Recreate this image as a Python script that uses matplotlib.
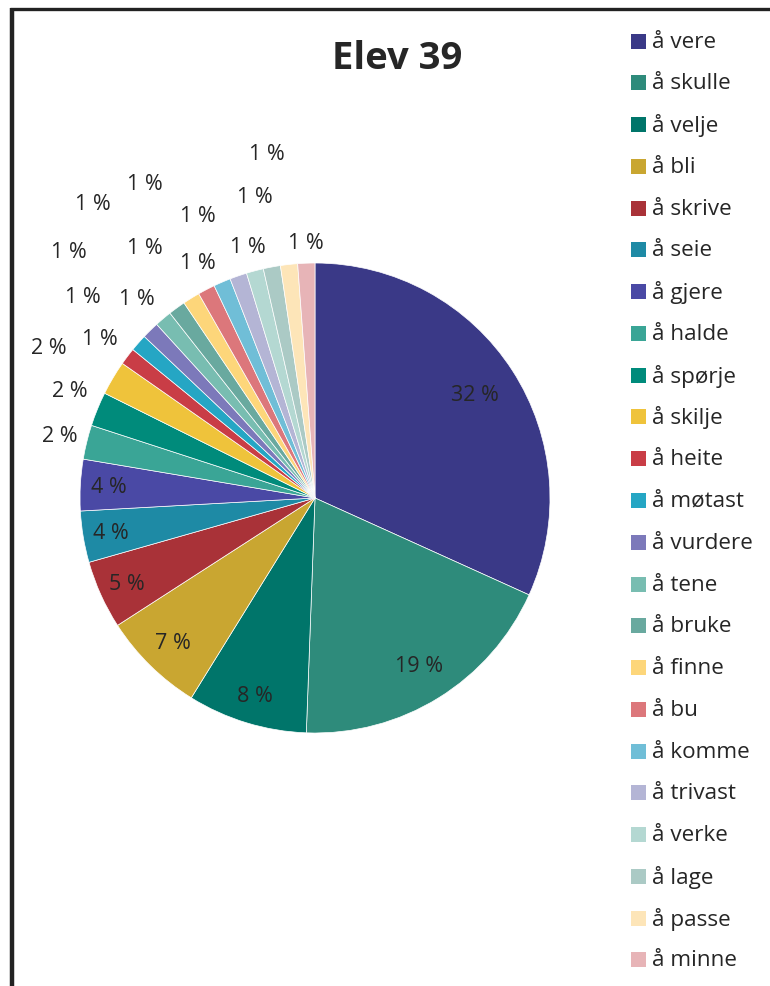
import numpy as np
import matplotlib
matplotlib.use("Agg")
import matplotlib.pyplot as plt
from matplotlib.patches import Rectangle
from matplotlib.lines import Line2D

plt.rcParams['font.family'] = ['Open Sans', 'DejaVu Sans']

# Verb counts for pupil 39
verbs = ["å vere", "å skulle", "å velje", "å bli", "å skrive", "å seie", "å gjere",
         "å halde", "å spørje", "å skilje", "å heite", "å møtast", "å vurdere",
         "å tene", "å bruke", "å finne", "å bu", "å komme", "å trivast", "å verke",
         "å lage", "å passe", "å minne"]
counts = [27, 16, 7, 6, 4, 3, 3, 2, 2, 2, 1, 1, 1, 1, 1, 1, 1, 1, 1, 1, 1, 1, 1]
colors = ["#3a3987", "#2e8b7b", "#00756a", "#c9a631", "#a93238", "#1e8aa5",
          "#4a49a5", "#3aa596", "#008b7b", "#efc33b", "#c93d46", "#25a6c4",
          "#7c79ba", "#78bdb1", "#69a99f", "#fdd67a", "#dc777b", "#70bed7",
          "#b4b5d5", "#b4d8d2", "#abcac5", "#fde5b8", "#e7b4b7"]
title = "Elev 39"

# label placement: radius (in pie radii) and angular shift (deg) per slice
label_r = [0.81, 0.84, 0.88, 0.86, 0.88, 0.88, 0.88,
           1.12, 1.14, 1.30, 1.14, 1.31, 1.48, 1.14, 1.29, 1.57, 1.12,
           1.30, 1.52, 1.11, 1.31, 1.48, 1.09]
label_dang = [0, 0, 0, 0, 0, 0, 0,
              0, 1.5, -1.2, -0.6, -0.3, -0.5, -1.5, 1.8, -5.2, 1.0,
              0.8, -9.4, -0.2, -0.6, -1.6, 0]

W, H = 770, 987
cx, cy, R = 315, 499, 235
text_color = "#262626"

fig = plt.figure(figsize=(W / 100, H / 100), dpi=100)
ax = fig.add_axes([0, 0, 1, 1])
ax.pie(counts, colors=colors, startangle=90, counterclock=False, radius=1,
       wedgeprops=dict(edgecolor="white", linewidth=0.5))
ax.set_xlim(-cx / R, (W - cx) / R)
ax.set_ylim(-(H - cy) / R, cy / R)
ax.set_aspect("auto")
ax.axis("off")

total = sum(counts)
cum = np.cumsum([0] + counts)
for i, c in enumerate(counts):
    mid = (cum[i] + c / 2) / total * 360 + label_dang[i]
    th = np.deg2rad(mid)
    r = label_r[i]
    pct = int(round(100 * c / total))
    ax.text(r * np.sin(th), r * np.cos(th), f"{pct} %", ha="center", va="center",
            fontsize=15.5, color=text_color)

fig.text(397 / W, 1 - 59 / H, title, ha="center", va="center", fontsize=27.5,
         fontweight="bold", color=text_color)

# legend
row0, step = 42, 41.77
for i, (name, col) in enumerate(zip(verbs, colors)):
    y = row0 + i * step
    fig.patches.append(Rectangle((631 / W, 1 - (y + 7.5) / H), 15 / W, 15 / H,
                                 transform=fig.transFigure, figure=fig,
                                 facecolor=col, edgecolor="none"))
    fig.text(652 / W, 1 - y / H, name, ha="left", va="center", fontsize=16.2,
             color=text_color)

# frame lines on the left and top
fig.add_artist(Line2D([12 / W, 12 / W], [0, 1 - 9 / H], color="#222222",
                      linewidth=3.2, transform=fig.transFigure, solid_capstyle="butt"))
fig.add_artist(Line2D([10 / W, 1], [1 - 9.5 / H, 1 - 9.5 / H], color="#222222",
                      linewidth=2.4, transform=fig.transFigure, solid_capstyle="butt"))

fig.savefig("out.png", dpi=100)
